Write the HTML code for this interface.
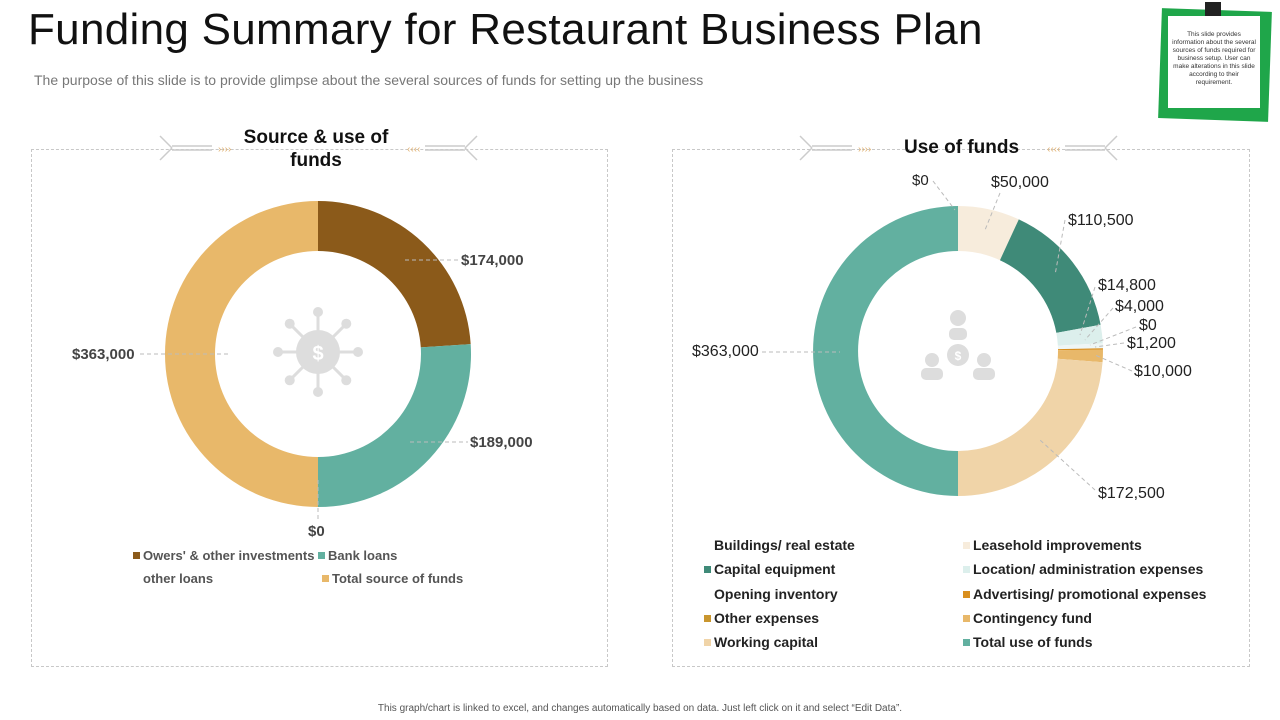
<!DOCTYPE html>
<html><head><meta charset="utf-8"><style>
body{margin:0;width:1280px;height:720px;background:#fff;font-family:"Liberation Sans",sans-serif;position:relative;overflow:hidden}
.t{position:absolute;white-space:nowrap}
.box{position:absolute;border:1px dashed #c8c8c8}
.lg{position:absolute;font-size:14px;font-weight:bold;color:#222;white-space:nowrap}
.lg i{display:inline-block;width:7px;height:7px;margin-right:3px;vertical-align:1px}
</style></head><body>
<div class="t" style="left:28px;top:5px;font-size:44px;color:#111;letter-spacing:0.3px">Funding Summary for Restaurant Business Plan</div>
<div class="t" style="left:34px;top:72px;font-size:14px;color:#777">The purpose of this slide is to provide glimpse about the several sources of funds for setting up the business</div>
<div class="box" style="left:31px;top:149px;width:575px;height:516px"></div>
<div class="box" style="left:672px;top:149px;width:576px;height:516px"></div>
<div style="position:absolute;left:1160px;top:10px;width:110px;height:110px;background:#1fa64a;transform:rotate(2deg)"></div>
<div style="position:absolute;left:1168px;top:16px;width:92px;height:92px;background:#fff"></div>
<div style="position:absolute;left:1205px;top:2px;width:16px;height:14px;background:#222"></div>
<div class="t" style="left:1172px;top:31px;width:84px;font-size:6.5px;line-height:8px;text-align:center;white-space:normal;color:#333">This slide provides information about the several sources of funds required for business setup. User can make alterations in this slide according to their requirement.</div>
<svg id="s" width="1280" height="720" style="position:absolute;left:0;top:0"></svg>
<div class="t" style="left:236px;top:126px;width:160px;text-align:center;font-size:19px;font-weight:bold;color:#111;line-height:23px;white-space:normal">Source &amp; use of<br>funds</div>
<div class="t" style="left:904px;top:137px;font-size:19px;font-weight:bold;color:#111">Use of funds</div>
<div class="t" style="left:461px;top:252px;font-size:15px;font-weight:bold;color:#444">$174,000</div>
<div class="t" style="left:470px;top:434px;font-size:15px;font-weight:bold;color:#444">$189,000</div>
<div class="t" style="left:72px;top:346px;font-size:15px;font-weight:bold;color:#444">$363,000</div>
<div class="t" style="left:308px;top:523px;font-size:15px;font-weight:bold;color:#444">$0</div>
<div class="lg" style="left:133px;top:548px;color:#555;font-size:13px"><i style="background:#8b5a1a"></i>Owers' &amp; other investments <i style="background:#62b0a0"></i>Bank loans</div>
<div class="lg" style="left:143px;top:571px;color:#555;font-size:13px">other loans</div>
<div class="lg" style="left:322px;top:571px;color:#555;font-size:13px"><i style="background:#e8b86a"></i>Total source of funds</div>
<div class="t" style="left:912px;top:172px;font-size:15px;color:#222">$0</div>
<div class="t" style="left:991px;top:174px;font-size:16px;color:#222">$50,000</div>
<div class="t" style="left:1068px;top:212px;font-size:16px;color:#222">$110,500</div>
<div class="t" style="left:1098px;top:277px;font-size:16px;color:#222">$14,800</div>
<div class="t" style="left:1115px;top:298px;font-size:16px;color:#222">$4,000</div>
<div class="t" style="left:1139px;top:317px;font-size:16px;color:#222">$0</div>
<div class="t" style="left:1127px;top:335px;font-size:16px;color:#222">$1,200</div>
<div class="t" style="left:1134px;top:363px;font-size:16px;color:#222">$10,000</div>
<div class="t" style="left:1098px;top:485px;font-size:16px;color:#222">$172,500</div>
<div class="t" style="left:692px;top:343px;font-size:16px;color:#222">$363,000</div>
<div class="lg" style="left:704px;top:537px"><i style="background:transparent"></i>Buildings/ real estate</div>
<div class="lg" style="left:704px;top:561px"><i style="background:#3f8a78"></i>Capital equipment</div>
<div class="lg" style="left:704px;top:586px"><i style="background:transparent"></i>Opening inventory</div>
<div class="lg" style="left:704px;top:610px"><i style="background:#c9962e"></i>Other expenses</div>
<div class="lg" style="left:704px;top:634px"><i style="background:#f0d4a8"></i>Working capital</div>
<div class="lg" style="left:963px;top:537px"><i style="background:#f7ecdc"></i>Leasehold improvements</div>
<div class="lg" style="left:963px;top:561px"><i style="background:#dcefec"></i>Location/ administration expenses</div>
<div class="lg" style="left:963px;top:586px"><i style="background:#d98f1e"></i>Advertising/ promotional expenses</div>
<div class="lg" style="left:963px;top:610px"><i style="background:#e8b86a"></i>Contingency fund</div>
<div class="lg" style="left:963px;top:634px"><i style="background:#62b0a0"></i>Total use of funds</div>
<div class="t" style="left:0;width:1280px;top:703px;text-align:center;font-size:10px;color:#555">This graph/chart is linked to excel, and changes automatically based on data. Just left click on it and select “Edit Data”.</div>
<script>
var s=document.getElementById('s'),h='';
function arc(cx,cy,R,r,a0,a1,c){function p(a,rr){var t=(a-90)*Math.PI/180;return (cx+rr*Math.cos(t)).toFixed(2)+' '+(cy+rr*Math.sin(t)).toFixed(2)}
var l=(a1-a0)>180?1:0;return '<path d="M'+p(a0,R)+' A'+R+' '+R+' 0 '+l+' 1 '+p(a1,R)+' L'+p(a1,r)+' A'+r+' '+r+' 0 '+l+' 0 '+p(a0,r)+' Z" fill="'+c+'"/>';}
function donut(cx,cy,R,r,vals,cols){var T=vals.reduce((a,b)=>a+b,0),a=0;vals.forEach(function(v,i){if(!v)return;var b=a+v/T*360;h+=arc(cx,cy,R,r,a,b,cols[i]);a=b;});}
donut(318,354,153,103,[174000,189000,363000],['#8b5a1a','#62b0a0','#e8b86a']);
donut(958,351,145,100,[50000,110500,14800,4000,1200,10000,172500,363000],['#f7ecdc','#3f8a78','#dcefec','#eef6f5','#d98f1e','#e8b86a','#f0d4a8','#62b0a0']);
function ln(pts){h+='<polyline points="'+pts+'" fill="none" stroke="#bbb" stroke-dasharray="4,3"/>';}
ln('405,260 458,260');ln('410,442 468,442');ln('140,354 230,354');ln('318,480 318,520');
ln('933,181 955,210');ln('1000,193 985,230');ln('1065,220 1055,275');ln('1095,287 1080,335');ln('1113,308 1085,340');ln('1136,327 1090,345');ln('1124,343 1095,347');ln('1132,371 1095,355');ln('1095,490 1040,440');ln('762,352 840,352');
function deco(x,y,dir){var d=dir;h+='<g stroke="#ccc" fill="none" stroke-width="1.5"><line x1="'+x+'" y1="'+(y-2)+'" x2="'+(x+40*d)+'" y2="'+(y-2)+'"/><line x1="'+x+'" y1="'+(y+2)+'" x2="'+(x+40*d)+'" y2="'+(y+2)+'"/><line x1="'+x+'" y1="'+y+'" x2="'+(x-12*d)+'" y2="'+(y-12)+'"/><line x1="'+x+'" y1="'+y+'" x2="'+(x-12*d)+'" y2="'+(y+12)+'"/></g><text x="'+(x+(d>0?46:-58))+'" y="'+(y+4)+'" fill="#e0b070" font-size="10" font-family="Liberation Sans">'+(d>0?'››››':'‹‹‹‹')+'</text>';}
deco(172,148,1);deco(465,148,-1);deco(812,148,1);deco(1105,148,-1);
h+='<g fill="#ddd"><circle cx="318" cy="352" r="22"/><circle cx="958" cy="355" r="11"/><circle cx="958" cy="318" r="8"/><rect x="949" y="328" width="18" height="12" rx="5"/><circle cx="932" cy="360" r="7"/><rect x="921" y="368" width="22" height="12" rx="5"/><circle cx="984" cy="360" r="7"/><rect x="973" y="368" width="22" height="12" rx="5"/></g>';
[0,45,90,135,180,225,270,315].forEach(function(a){var t=a*Math.PI/180;h+='<line x1="318" y1="352" x2="'+(318+38*Math.cos(t))+'" y2="'+(352+38*Math.sin(t))+'" stroke="#ddd" stroke-width="3"/><circle cx="'+(318+40*Math.cos(t))+'" cy="'+(352+40*Math.sin(t))+'" r="5" fill="#ddd"/>';});
h+='<text x="318" y="360" text-anchor="middle" fill="#fff" font-size="20" font-weight="bold" font-family="Liberation Sans">$</text><text x="958" y="360" text-anchor="middle" fill="#fff" font-size="12" font-weight="bold" font-family="Liberation Sans">$</text>';
s.innerHTML=h;
</script>
</body></html>
